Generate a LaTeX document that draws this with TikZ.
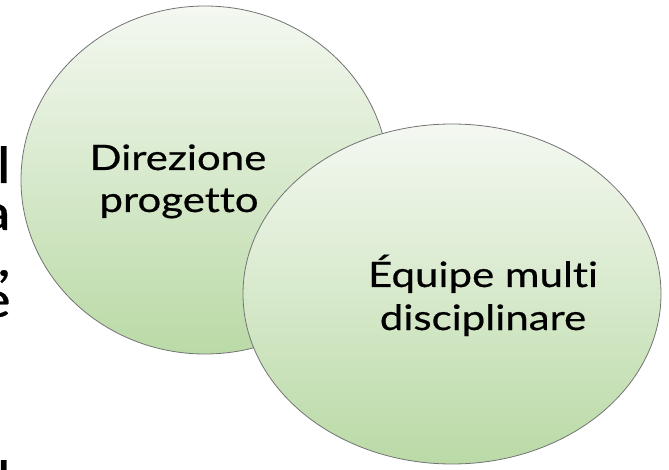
\documentclass[tikz,border=0pt]{standalone}
\usepackage{fontspec}
\setmainfont[Ligatures=NoCommon, FakeStretch=1.2, FakeBold=0.5]{Lato}
\begin{document}
\begin{tikzpicture}[x=1pt,y=-1pt,
  bubble/.style={draw=black!55, line width=0.8pt},
  bubblefill/.style={top color={rgb,255:red,244;green,248;blue,241},
    middle color={rgb,255:red,214;green,233;blue,203},
    bottom color={rgb,255:red,186;green,218;blue,166}},
  lbl/.style={font=\fontsize{35}{43}\selectfont, text=black, inner sep=0pt, anchor=base},
  edge/.style={font=\fontsize{50}{43}\selectfont, text=black, inner sep=0pt, anchor=base east}]
\useasboundingbox (0,0) rectangle (669,470);
\clip (0,0) rectangle (669,470);
% clipped text at left edge
\node[edge] (t1) at (11,183) {l};
\node[edge] (t2) at (11,230) {a};
\node[edge] (t3) at (11,276) {,};
\node[edge] (t4) at (11,317) {e};
\node[edge] (t5) at (11,497) {l};
% left ellipse
\shade[bubblefill] (205,180) ellipse [x radius=184, y radius=174];
\draw[bubble] (205,180) ellipse [x radius=184, y radius=174];
\node[lbl] (a1) at (178,170) {Direzione};
\node[lbl] (a2) at (179,212) {progetto};
% right ellipse
\shade[bubblefill] (452,294) ellipse [x radius=209, y radius=170];
\draw[bubble] (452,294) ellipse [x radius=209, y radius=170];
\node[lbl] (b1) at (483,287) {Équipe multi};
\node[lbl] (b2) at (483,330) {disciplinare};
\end{tikzpicture}
\end{document}
